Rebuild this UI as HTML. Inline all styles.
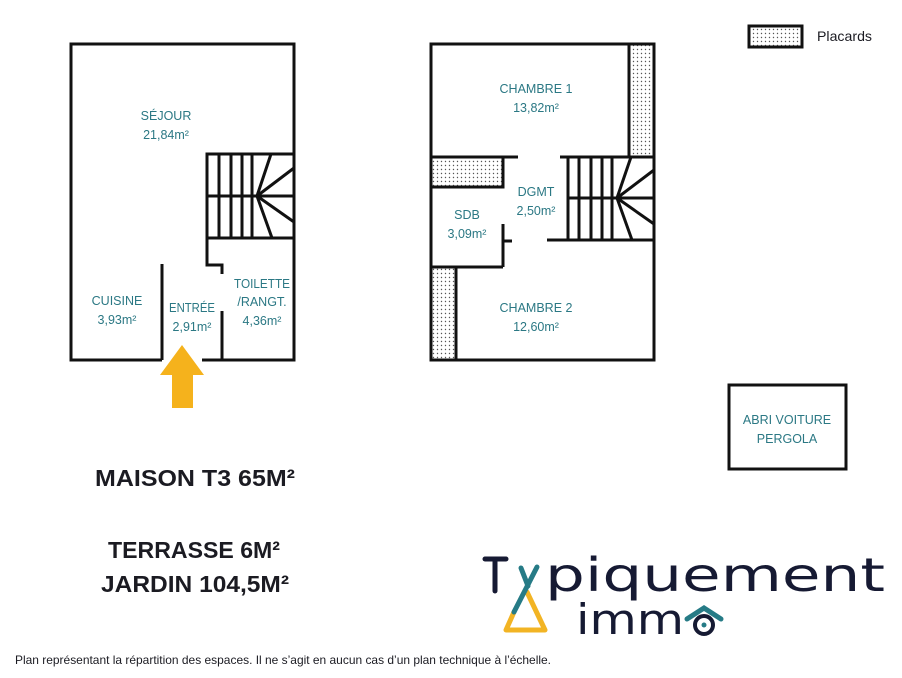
<!DOCTYPE html>
<html><head><meta charset="utf-8"><style>
html,body{margin:0;padding:0;background:#fff;}
svg{display:block;}
.t{font-family:"Liberation Sans",sans-serif;fill:#2b7884;font-size:12.5px;text-anchor:middle;}
.b{font-family:"Liberation Sans",sans-serif;fill:#1b1b22;}
</style></head><body>
<svg width="902" height="678" viewBox="0 0 902 678" xmlns="http://www.w3.org/2000/svg">
<defs>
<pattern id="dots" width="4" height="4" patternUnits="userSpaceOnUse">
<rect width="4" height="4" fill="#fff"/><circle cx="1.5" cy="1.5" r="0.7" fill="#555"/>
</pattern>
</defs>
<g stroke="#111" stroke-width="3" fill="none">
<polyline points="162,360 71,360 71,44 294,44 294,360 202,360"/>
<rect x="207" y="154" width="87" height="84"/>
<line x1="207" y1="196" x2="257" y2="196"/>
<line x1="219" y1="154" x2="219" y2="238"/><line x1="231" y1="154" x2="231" y2="238"/>
<line x1="242" y1="154" x2="242" y2="238"/><line x1="252" y1="154" x2="252" y2="238"/>
<line x1="257" y1="196" x2="271" y2="154"/><line x1="257" y1="196" x2="294" y2="168"/>
<line x1="257" y1="196" x2="294" y2="196"/><line x1="257" y1="196" x2="294" y2="222"/>
<line x1="257" y1="196" x2="272" y2="238"/>
<polyline points="207,238 207,265 222,265 222,274"/>
<line x1="222" y1="311" x2="222" y2="360"/>
<line x1="162" y1="264" x2="162" y2="360"/>
<rect x="431" y="44" width="223" height="316"/>
<rect x="629" y="44" width="25" height="113" fill="url(#dots)"/>
<line x1="431" y1="157" x2="518" y2="157"/><line x1="560" y1="157" x2="654" y2="157"/>
<rect x="431" y="157" width="72" height="30" fill="url(#dots)"/>
<line x1="503" y1="224" x2="503" y2="267"/><line x1="503" y1="241" x2="512" y2="241"/>
<line x1="431" y1="267" x2="503" y2="267"/>
<rect x="431" y="267" width="25" height="93" fill="url(#dots)"/>
<line x1="568" y1="157" x2="568" y2="240"/>
<line x1="547" y1="240" x2="654" y2="240"/>
<line x1="568" y1="198" x2="617" y2="198"/>
<line x1="579" y1="157" x2="579" y2="240"/><line x1="591" y1="157" x2="591" y2="240"/>
<line x1="602" y1="157" x2="602" y2="240"/><line x1="612" y1="157" x2="612" y2="240"/>
<line x1="617" y1="198" x2="631" y2="157"/><line x1="617" y1="198" x2="654" y2="170"/>
<line x1="617" y1="198" x2="654" y2="198"/><line x1="617" y1="198" x2="654" y2="224"/>
<line x1="617" y1="198" x2="632" y2="240"/>
<rect x="729" y="385" width="117" height="84"/>
<rect x="749" y="26" width="53" height="21" fill="url(#dots)"/>
</g>
<polygon points="182,345 204,375 193,375 193,408 172,408 172,375 160,375" fill="#f5b21c"/>
<text class="t" x="166" y="120">SÉJOUR</text><text class="t" x="166" y="139">21,84m²</text>
<text class="t" x="117" y="305">CUISINE</text><text class="t" x="117" y="324">3,93m²</text>
<text class="t" x="192" y="312" textLength="46" lengthAdjust="spacingAndGlyphs">ENTRÉE</text><text class="t" x="192" y="331">2,91m²</text>
<text class="t" x="262" y="288" textLength="56" lengthAdjust="spacingAndGlyphs">TOILETTE</text><text class="t" x="262" y="306">/RANGT.</text><text class="t" x="262" y="325">4,36m²</text>
<text class="t" x="536" y="93">CHAMBRE 1</text><text class="t" x="536" y="112">13,82m²</text>
<text class="t" x="536" y="196">DGMT</text><text class="t" x="536" y="215">2,50m²</text>
<text class="t" x="467" y="219">SDB</text><text class="t" x="467" y="238">3,09m²</text>
<text class="t" x="536" y="312">CHAMBRE 2</text><text class="t" x="536" y="331">12,60m²</text>
<text class="t" x="787" y="424">ABRI VOITURE</text><text class="t" x="787" y="443">PERGOLA</text>
<text class="b" x="817" y="41" font-size="14" textLength="55" lengthAdjust="spacingAndGlyphs">Placards</text>
<g font-weight="bold">
<text class="b" x="95" y="486" font-size="23" textLength="200" lengthAdjust="spacingAndGlyphs">MAISON T3 65M²</text>
<text class="b" x="108" y="558" font-size="23" textLength="172" lengthAdjust="spacingAndGlyphs">TERRASSE 6M²</text>
<text class="b" x="101" y="592" font-size="23" textLength="188" lengthAdjust="spacingAndGlyphs">JARDIN 104,5M²</text>
</g>
<text class="b" x="15" y="664" font-size="12" textLength="536" lengthAdjust="spacingAndGlyphs">Plan représentant la répartition des espaces. Il ne s’agit en aucun cas d’un plan technique à l’échelle.</text>
<g stroke-linecap="round" fill="none">
<line x1="485" y1="559" x2="506" y2="559" stroke="#161a33" stroke-width="5"/>
<line x1="495" y1="559" x2="495" y2="591" stroke="#161a33" stroke-width="5"/>
<line x1="521" y1="568" x2="528" y2="586" stroke="#267b86" stroke-width="5"/>
<polyline points="527,592 545,630 506,630 514,612" stroke="#f2b424" stroke-width="5" stroke-linejoin="round"/>
<line x1="537" y1="567" x2="514" y2="612" stroke="#267b86" stroke-width="5"/>
<polyline points="687,619 704,608 721,619" stroke="#267b86" stroke-width="5"/>
<circle cx="704" cy="625" r="9" stroke="#161a33" stroke-width="4"/>
<circle cx="704" cy="625" r="2.5" fill="#267b86" stroke="none"/>
</g>
<text x="545" y="591" font-family="'DejaVu Sans',sans-serif" font-size="46" fill="#161a33" textLength="340" lengthAdjust="spacingAndGlyphs">piquement</text>
<text x="576" y="634" font-family="'DejaVu Sans',sans-serif" font-size="42" fill="#161a33" textLength="108" lengthAdjust="spacingAndGlyphs">imm</text>
</svg>
</body></html>
